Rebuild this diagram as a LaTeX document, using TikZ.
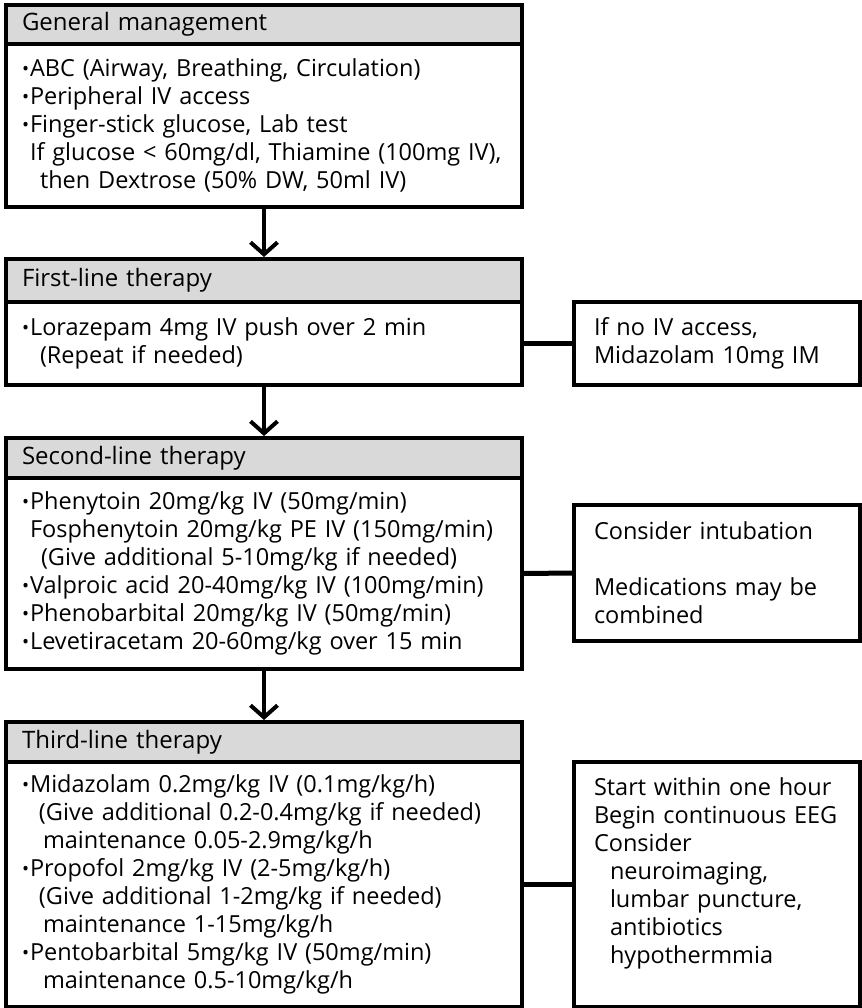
\documentclass[tikz,border=0pt]{standalone}
\usepackage{fontspec}
\setmainfont{Open Sans}
\usepackage{xcolor}
\usetikzlibrary{arrows.meta}

\definecolor{headgray}{HTML}{D9D9D9}
\newcommand{\bul}{\raisebox{0.1ex}{\scalebox{0.8}{•}}\hspace{1pt}}

\tikzset{
  head/.style={draw, line width=4pt, fill=headgray, anchor=north west, minimum width=516pt,
    text width=484pt, inner xsep=16pt, align=left, font=\fontsize{24}{28}\selectfont},
  body/.style={draw, line width=4pt, fill=white, anchor=north west, minimum width=516pt,
    text width=484pt, inner xsep=16pt, align=left, font=\fontsize{23.5}{28}\selectfont},
  side/.style={draw, line width=4pt, fill=white, anchor=north west, minimum width=286pt,
    text width=246pt, inner xsep=20pt, align=left, font=\fontsize{23.5}{28}\selectfont},
  flow/.style={line width=4.5pt, -{Straight Barb[length=12pt,width=27pt,line width=4pt]}},
  link/.style={line width=5pt},
}

\begin{document}
\begin{tikzpicture}[x=1pt,y=-1pt]
\useasboundingbox (0,0) rectangle (861,1008);

% general management
\node[body, minimum height=163pt] (gmbody) at (4,42) {\bul ABC (Airway, Breathing, Circulation)\\
  \bul Peripheral IV access\\
  \bul Finger-stick glucose, Lab test\\
  \hspace*{8pt}If glucose < 60mg/dl, Thiamine (100mg IV),\\
  \hspace*{18pt}then Dextrose (50\% DW, 50ml IV)};
\node[head, minimum height=39pt] (gmhead) at (4,3) {General management};

% first-line
\node[body, minimum height=83pt] (flbody) at (4,300) {\bul Lorazepam 4mg IV push over 2 min\\
  \hspace*{18pt}(Repeat if needed)};
\node[head, minimum height=43pt] (flhead) at (4,257) {First-line therapy};
\node[side, minimum height=83pt] (flside) at (572,300) {If no IV access,\\Midazolam 10mg IM};

% second-line
\node[body, minimum height=191pt] (slbody) at (4,476) {\bul Phenytoin 20mg/kg IV (50mg/min)\\
  \hspace*{8pt}Fosphenytoin 20mg/kg PE IV (150mg/min)\\
  \hspace*{19pt}(Give additional 5-10mg/kg if needed)\\
  \bul Valproic acid 20-40mg/kg IV (100mg/min)\\
  \bul Phenobarbital 20mg/kg IV (50mg/min)\\
  \bul Levetiracetam 20-60mg/kg over 15 min};
\node[head, minimum height=40pt] (slhead) at (4,436) {Second-line therapy};
\node[side, minimum height=136pt] (slside) at (572,503) {Consider intubation\\[28pt]
  Medications may be\\combined};

% third-line
\node[body, minimum height=245pt] (tlbody) at (4,760) {\bul Midazolam 0.2mg/kg IV (0.1mg/kg/h)\\
  \hspace*{17pt}(Give additional 0.2-0.4mg/kg if needed)\\
  \hspace*{21pt}maintenance 0.05-2.9mg/kg/h\\
  \bul Propofol 2mg/kg IV (2-5mg/kg/h)\\
  \hspace*{17pt}(Give additional 1-2mg/kg if needed)\\
  \hspace*{21pt}maintenance 1-15mg/kg/h\\
  \bul Pentobarbital 5mg/kg IV (50mg/min)\\
  \hspace*{21pt}maintenance 0.5-10mg/kg/h};
\node[head, minimum height=40pt] (tlhead) at (4,720) {Third-line therapy};
\node[side, minimum height=245pt] (tlside) at (572,760) {Start within one hour\\
  Begin continuous EEG\\
  Consider\\
  \hspace*{16pt}neuroimaging,\\
  \hspace*{16pt}lumbar puncture,\\
  \hspace*{16pt}antibiotics\\
  \hspace*{16pt}hypothermmia\\
  \mbox{}};

\draw[flow] (gmbody.south) -- (flhead.north);
\draw[flow] (flbody.south) -- (slhead.north);
\draw[flow] (slbody.south) -- (tlhead.north);

\draw[link] (flbody.east) -- (flside.west);
\draw[link] (slbody.east) -- (slside.west);
\draw[link] (tlbody.east) -- (tlside.west);
\end{tikzpicture}
\end{document}
